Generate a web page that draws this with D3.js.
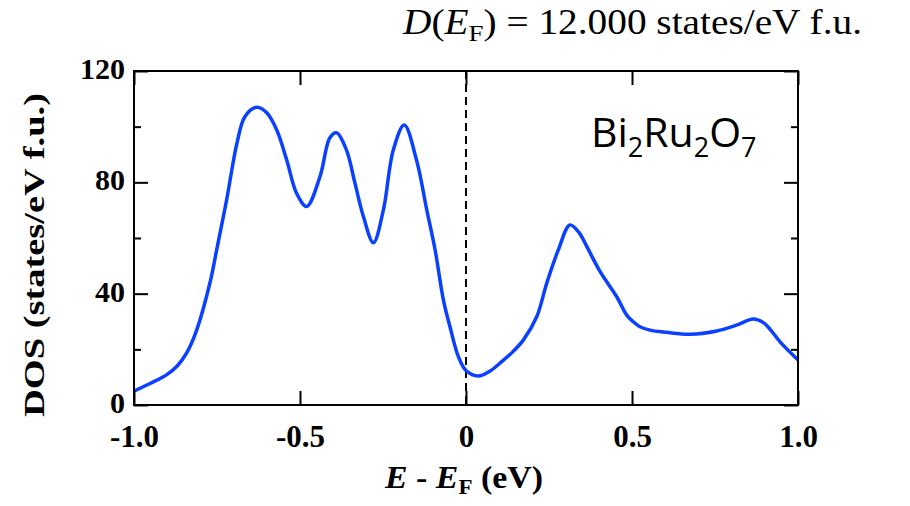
<!DOCTYPE html>
<html><head><meta charset="utf-8">
<script src="https://cdn.jsdelivr.net/npm/d3@7"></script>
<style>body{margin:0;background:#fff}svg{display:block}</style>
</head><body>
<svg id="c" width="910" height="506"></svg>
<script>
const energy = [-1.0,-0.95,-0.90,-0.87,-0.84,-0.811,-0.771,-0.751,-0.721,-0.69,-0.666,-0.63,-0.60,-0.57,-0.54,-0.51,-0.48,-0.44,-0.41,-0.39,-0.36,-0.335,-0.309,-0.279,-0.249,-0.219,-0.186,-0.149,-0.118,-0.093,-0.068,-0.048,-0.023,0,0.037,0.07,0.102,0.14,0.173,0.213,0.243,0.278,0.313,0.34,0.364,0.404,0.454,0.484,0.504,0.524,0.554,0.604,0.675,0.755,0.815,0.865,0.896,0.916,0.946,1.0];
const dos = [5.0,7.8,11,14,19,27,44,55.7,73.7,94,103.6,107,105,98.8,88,76,71.3,82,96,97.8,91.6,80,67.7,58.3,70,91.6,100.6,88,70,55.7,37.7,28,17.4,12.4,10.4,12,15,19,23.4,31.7,43.7,55.7,64.7,62,56.9,47.9,38.9,32.3,29.9,28.1,26.9,26.1,25.4,26.6,28.7,30.9,29.6,27.2,22.7,16.2];
const xTicks = [-1.0,-0.5,0,0.5,1.0];
const xTickLabels = ["-1.0","-0.5","0","0.5","1.0"];
const yTicks = [0,40,80,120];
const yMinorTicks = [20,60,100];

const svg = d3.select("#c");
const L=134,R=798,T=71,B=405;
const x = d3.scaleLinear().domain([-1,1]).range([L,R]);
const y = d3.scaleLinear().domain([0,120]).range([B,T]);
const serif = "'Liberation Serif','Times New Roman',serif";

const data = energy.map((e,i)=>({e, v:dos[i]}));

// dashed line at Fermi level
svg.append("line").attr("x1",x(0)).attr("x2",x(0)).attr("y1",T).attr("y2",B)
  .attr("stroke","#000").attr("stroke-width",2).attr("stroke-dasharray","8,5");

// curve
svg.append("path").datum(data)
  .attr("d", d3.line().x(d=>x(d.e)).y(d=>y(d.v)).curve(d3.curveCatmullRom.alpha(0.5)))
  .attr("fill","none").attr("stroke","#0a40ff").attr("stroke-width",3.5)
  .attr("stroke-linejoin","round");

// axes
const bx = svg.append("g").attr("transform",`translate(0,${B})`)
  .call(d3.axisBottom(x).tickValues(xTicks).tickSize(-14).tickFormat((d,i)=>xTickLabels[i]));
const tx = svg.append("g").attr("transform",`translate(0,${T})`)
  .call(d3.axisTop(x).tickValues(xTicks).tickSize(-14).tickFormat(""));
const ly = svg.append("g").attr("transform",`translate(${L},0)`)
  .call(d3.axisLeft(y).tickValues(yTicks).tickSize(-14).tickPadding(9));
const lym = svg.append("g").attr("transform",`translate(${L},0)`)
  .call(d3.axisLeft(y).tickValues(yMinorTicks).tickSize(-7).tickFormat(""));
const ry = svg.append("g").attr("transform",`translate(${R},0)`)
  .call(d3.axisRight(y).tickValues(yTicks).tickSize(-14).tickFormat(""));
const rym = svg.append("g").attr("transform",`translate(${R},0)`)
  .call(d3.axisRight(y).tickValues(yMinorTicks).tickSize(-7).tickFormat(""));
[bx,tx,ly,lym,ry,rym].forEach(g=>{
  g.select(".domain").remove();
  g.selectAll(".tick line").attr("stroke","#000").attr("stroke-width",2);
  g.selectAll(".tick text").attr("font-family",serif).attr("font-weight","bold").attr("fill","#000");
});
bx.selectAll(".tick text").attr("font-size",31).attr("dy",null).attr("y",42);
ly.selectAll(".tick text").attr("font-size",30).attr("dy","0.25em");
// frame
svg.append("rect").attr("x",L).attr("y",T).attr("width",R-L).attr("height",B-T)
  .attr("fill","none").attr("stroke","#000").attr("stroke-width",2);

// y title
svg.append("text").attr("transform",`translate(44,${(93+417)/2}) rotate(-90)`)
  .attr("text-anchor","middle").attr("font-family",serif).attr("font-weight","bold")
  .attr("font-size",30).attr("textLength",324).attr("lengthAdjust","spacingAndGlyphs")
  .text("DOS (states/eV f.u.)");

// x title
const xt = svg.append("text").attr("x",385).attr("y",488)
  .attr("font-family",serif).attr("font-weight","bold").attr("font-size",31)
  .attr("textLength",158).attr("lengthAdjust","spacingAndGlyphs");
xt.append("tspan").attr("font-style","italic").text("E");
xt.append("tspan").text(" - ");
xt.append("tspan").attr("font-style","italic").text("E");
xt.append("tspan").attr("font-size",21).attr("dy",6).text("F");
xt.append("tspan").attr("dy",-6).text(" (eV)");

// top annotation
const tt = svg.append("text").attr("x",403).attr("y",34)
  .attr("font-family",serif).attr("font-size",35)
  .attr("textLength",459).attr("lengthAdjust","spacingAndGlyphs");
tt.append("tspan").attr("font-style","italic").text("D");
tt.append("tspan").text("(");
tt.append("tspan").attr("font-style","italic").text("E");
tt.append("tspan").attr("font-size",24).attr("dy",7).text("F");
tt.append("tspan").attr("dy",-7).text(") = 12.000 states/eV f.u.");

// compound label
const cl = svg.append("text").attr("x",591).attr("y",147)
  .attr("font-family","'Open Sans','Lato',sans-serif").attr("font-size",41).attr("fill","#000");
cl.append("tspan").text("Bi");
cl.append("tspan").attr("font-size",27).attr("dy",10).text("2");
cl.append("tspan").attr("dy",-10).text("Ru");
cl.append("tspan").attr("font-size",27).attr("dy",10).text("2");
cl.append("tspan").attr("dy",-10).text("O");
cl.append("tspan").attr("font-size",27).attr("dy",10).text("7");
</script>
</body></html>
